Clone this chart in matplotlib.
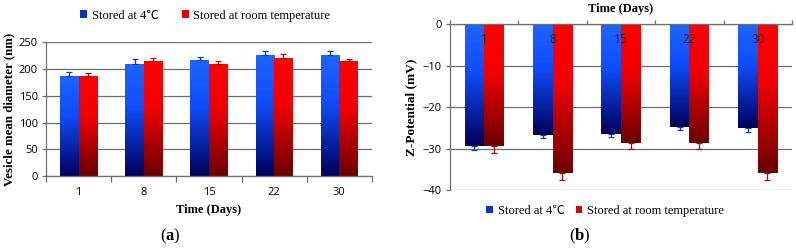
import numpy as np
import matplotlib
matplotlib.use("Agg")
import matplotlib.pyplot as plt
from matplotlib.colors import LinearSegmentedColormap
from matplotlib.patches import Patch

days = ["1", "8", "15", "22", "30"]
size_4c = [187, 210, 216, 226, 226]
size_4c_err = [7, 9, 6, 8, 8]
size_rt = [187, 214, 210, 221, 214]
size_rt_err = [5, 7, 5, 6, 5]

zeta_4c = [-29.5, -26.8, -26.5, -24.7, -25.0]
zeta_4c_err = [0.9, 0.7, 0.8, 0.8, 0.9]
zeta_rt = [-29.5, -36.0, -28.7, -28.6, -36.0]
zeta_rt_err = [1.5, 1.6, 1.5, 1.5, 1.6]

legend_labels = ["Stored at 4\u2103", "Stored at room temperature"]

plt.rcParams['mathtext.fontset'] = 'custom'
plt.rcParams['mathtext.rm'] = 'Liberation Serif'
plt.rcParams['mathtext.bf'] = 'Liberation Serif:bold'

blue_cmap = LinearSegmentedColormap.from_list(
    "b", [(0.0, (0.0, 0.0, 0.36)), (0.6, (0.06, 0.30, 0.98)), (1.0, (0.12, 0.40, 1.0))])
red_cmap = LinearSegmentedColormap.from_list(
    "r", [(0.0, (0.42, 0.0, 0.0)), (0.6, (0.95, 0.0, 0.0)), (1.0, (1.0, 0.0, 0.0))])

TICK_FONT = ["Open Sans", "DejaVu Sans"]
SERIF = ["Liberation Serif", "DejaVu Serif"]
LEG_FONT = ["Liberation Serif", "Noto Sans CJK SC", "DejaVu Serif"]


def gradient_bars(ax, bars, cmap):
    grad = np.linspace(0, 1, 256).reshape(-1, 1)
    for b in bars:
        x0, y0 = b.get_x(), b.get_y()
        w, h = b.get_width(), b.get_height()
        ylo, yhi = min(y0, y0 + h), max(y0, y0 + h)
        b.set_facecolor("none")
        im = ax.imshow(grad, cmap=cmap, origin="lower", aspect="auto",
                       extent=(x0, x0 + w, ylo, yhi), zorder=2, interpolation="bicubic")
        im.set_clip_path(b)


fig = plt.figure(figsize=(7.96, 2.48), dpi=100)
handles = [Patch(facecolor="#1030c8", edgecolor="none"), Patch(facecolor="#e00000", edgecolor="none")]

# ---------- panel (a) ----------
axa = fig.add_axes([0.0578, 0.290, 0.4095, 0.540])
x = np.arange(len(days))
bw = 0.285
ba = axa.bar(x - bw / 2, size_4c, bw, edgecolor="none", zorder=2)
br = axa.bar(x + bw / 2, size_rt, bw, edgecolor="none", zorder=2)
gradient_bars(axa, ba, blue_cmap)
gradient_bars(axa, br, red_cmap)
axa.errorbar(x - bw / 2, size_4c, yerr=[np.zeros(5), size_4c_err], fmt="none",
             ecolor="#1a3aa0", elinewidth=0.9, capsize=2.5, capthick=0.9, zorder=3)
axa.errorbar(x + bw / 2, size_rt, yerr=[np.zeros(5), size_rt_err], fmt="none",
             ecolor="#a01010", elinewidth=0.9, capsize=2.5, capthick=0.9, zorder=3)
axa.set_xlim(-0.5, 4.5)
axa.set_ylim(0, 250)
axa.set_yticks([0, 50, 100, 150, 200, 250])
axa.yaxis.grid(True, color="#6e6e6e", linewidth=0.9, zorder=0)
axa.set_axisbelow(True)
axa.set_xticks(x)
axa.set_xticklabels(days)
axa.set_xticks(np.arange(-0.5, 5.0, 1.0), minor=True)
axa.tick_params(axis="x", which="major", length=0, pad=8, labelsize=8)
axa.tick_params(axis="x", which="minor", length=4, color="#6e6e6e", width=0.9)
axa.tick_params(axis="y", length=3, color="#6e6e6e", width=0.9, labelsize=8, pad=3)
for lab in axa.get_xticklabels() + axa.get_yticklabels():
    lab.set_family(TICK_FONT)
for s in ["top", "right"]:
    axa.spines[s].set_visible(False)
for s in ["left", "bottom"]:
    axa.spines[s].set_color("#6e6e6e")
    axa.spines[s].set_linewidth(0.9)
axa.set_xlabel("Time (Days)", fontsize=9, fontweight="bold", family=SERIF, labelpad=4)
axa.set_ylabel("Vesicle mean diameter (nm)", fontsize=9.3, fontweight="bold", family=SERIF, labelpad=2)

fig.legend(handles, legend_labels, loc="center", bbox_to_anchor=(0.258, 0.937), ncol=2,
           frameon=False, prop={"family": LEG_FONT, "size": 9}, handlelength=0.55,
           handleheight=0.55, handletextpad=0.35, columnspacing=1.9)
fig.text(0.214, 0.045, r"($\mathbf{a}$)", ha="center", va="center", fontsize=12, family=SERIF)

# ---------- panel (b) ----------
axb = fig.add_axes([0.5653, 0.2339, 0.4296, 0.669])
bb = axb.bar(x - bw / 2, zeta_4c, bw, edgecolor="none", zorder=2)
brr = axb.bar(x + bw / 2, zeta_rt, bw, edgecolor="none", zorder=2)
gradient_bars(axb, bb, blue_cmap)
gradient_bars(axb, brr, red_cmap)
axb.errorbar(x - bw / 2, zeta_4c, yerr=[zeta_4c_err, np.zeros(5)], fmt="none",
             ecolor="#1a3aa0", elinewidth=0.9, capsize=2.5, capthick=0.9, zorder=3)
axb.errorbar(x + bw / 2, zeta_rt, yerr=[zeta_rt_err, np.zeros(5)], fmt="none",
             ecolor="#a01010", elinewidth=0.9, capsize=2.5, capthick=0.9, zorder=3)
axb.set_xlim(-0.5, 4.5)
axb.set_ylim(-40, 0)
axb.set_yticks([-40, -30, -20, -10, 0])
axb.yaxis.grid(True, color="#6e6e6e", linewidth=0.9, zorder=0)
axb.set_axisbelow(True)
axb.xaxis.set_ticks_position("top")
axb.set_xticks(x)
axb.set_xticklabels([])
axb.set_xticks(np.arange(-0.5, 5.0, 1.0), minor=True)
axb.tick_params(axis="x", which="major", length=0)
axb.tick_params(axis="x", which="minor", length=3, color="#6e6e6e", width=0.9, top=True, bottom=False)
for xi, d in zip(x, days):
    axb.text(xi, -3.7, d, ha="center", va="center", fontsize=8.5, family=TICK_FONT,
             color="#222222", zorder=4)
axb.tick_params(axis="y", length=3, color="#6e6e6e", width=0.9, labelsize=8, pad=3)
for lab in axb.get_yticklabels():
    lab.set_family(TICK_FONT)
for s in ["bottom", "right"]:
    axb.spines[s].set_visible(False)
for s in ["left", "top"]:
    axb.spines[s].set_color("#6e6e6e")
    axb.spines[s].set_linewidth(0.9)
axb.xaxis.set_label_position("top")
axb.set_xlabel("Time (Days)", fontsize=9, fontweight="bold", family=SERIF, labelpad=2)
axb.set_ylabel("Z-Potential (mV)", fontsize=9.5, fontweight="bold", family=SERIF, labelpad=4)

fig.legend(handles, legend_labels, loc="center", bbox_to_anchor=(0.760, 0.150), ncol=2,
           frameon=False, prop={"family": LEG_FONT, "size": 9}, handlelength=0.55,
           handleheight=0.55, handletextpad=0.35, columnspacing=0.9)
fig.text(0.729, 0.045, r"($\mathbf{b}$)", ha="center", va="center", fontsize=12, family=SERIF)

fig.savefig("out.png", dpi=100)
